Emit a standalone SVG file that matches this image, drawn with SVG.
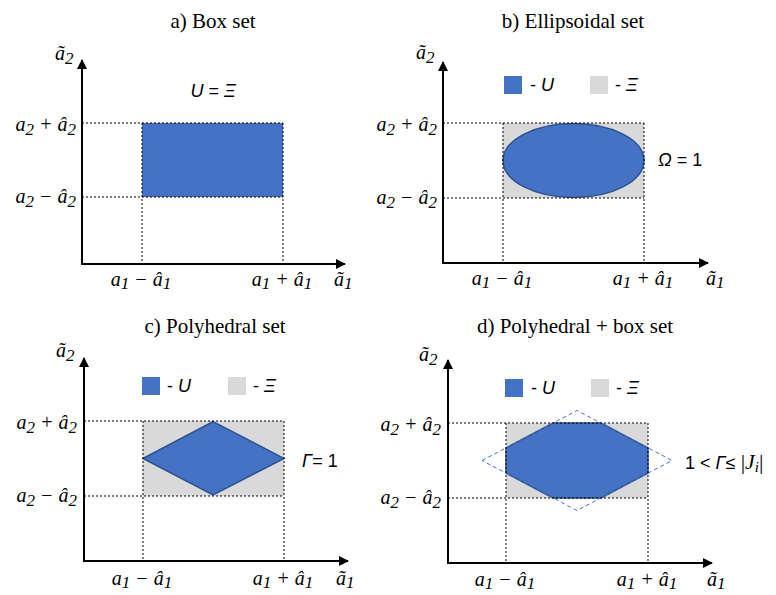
<svg xmlns="http://www.w3.org/2000/svg" width="776" height="595" viewBox="0 0 776 595">
<style>
.title{font-family:"Liberation Serif","Times New Roman",serif;font-size:21px;fill:#000;text-anchor:middle}
.m{font-family:"Liberation Serif","Times New Roman",serif;font-style:italic;font-size:20px;fill:#000}
.s{font-size:17px}
.sans{font-family:"Liberation Sans",Arial,sans-serif;font-size:18px;fill:#000}
.it{font-style:italic}
.axis{stroke:#000;stroke-width:2;fill:none}
.dot{stroke:#000;stroke-width:1;stroke-dasharray:2,2;fill:none}
.u{fill:#4472C4;stroke:#2F528F;stroke-width:1.5}
.ub{fill:#4472C4}
.xi{fill:#D9D9D9}
.dd{fill:none;stroke:#4472C4;stroke-width:1;stroke-dasharray:4,3}
</style>
<defs>
<marker id="arr" viewBox="0 0 10 10" refX="9" refY="5" markerWidth="5" markerHeight="5" orient="auto" markerUnits="strokeWidth">
<path d="M0,0 L10,5 L0,10 z" fill="#000"/>
</marker>
</defs>

<g id="panel-a">
<text class="title" x="213" y="28">a) Box set</text>
<rect class="ub" x="142" y="123" width="141" height="74"/>
<g class="dot">
<path d="M82,123H283M82,197H283M142,123V264M283,123V264"/>
</g>
<text class="sans" x="213" y="97" text-anchor="middle"><tspan class="it">U</tspan> = <tspan class="it">Ξ</tspan></text>
<text class="m" x="76" y="131" text-anchor="end">a<tspan class="s" dy="4">2</tspan><tspan dy="-4"> + â</tspan><tspan class="s" dy="4">2</tspan></text>
<text class="m" x="76" y="203" text-anchor="end">a<tspan class="s" dy="4">2</tspan><tspan dy="-4"> − â</tspan><tspan class="s" dy="4">2</tspan></text>
<text class="m" x="141" y="286" text-anchor="middle">a<tspan class="s" dy="3">1</tspan><tspan dy="-3"> − â</tspan><tspan class="s" dy="3">1</tspan></text>
<text class="m" x="282" y="286" text-anchor="middle">a<tspan class="s" dy="3">1</tspan><tspan dy="-3"> + â</tspan><tspan class="s" dy="3">1</tspan></text>
<text class="m" x="334" y="286">ã<tspan class="s" dy="3">1</tspan></text>
<text class="m" x="55" y="60">ã<tspan class="s" dy="4">2</tspan></text>
</g>

<g id="panel-b">
<text class="title" x="573" y="28">b) Ellipsoidal set</text>
<rect class="xi" x="503" y="123" width="141" height="75"/>
<ellipse class="u" cx="573.5" cy="160.5" rx="70.5" ry="37"/>
<g class="dot">
<path d="M443,123H644M443,198H644M503,123V263M644,123V263"/>
</g>
<rect class="ub" x="504" y="76" width="18" height="18"/>
<text class="sans" x="530" y="91" font-size="17">- <tspan class="it">U</tspan></text>
<rect class="xi" x="590" y="76" width="18" height="18"/>
<text class="sans" x="615" y="91" font-size="17">- <tspan class="it">Ξ</tspan></text>
<text class="sans" x="658" y="166" font-size="19"><tspan class="it">Ω</tspan> = 1</text>
<text class="m" x="437" y="131" text-anchor="end">a<tspan class="s" dy="4">2</tspan><tspan dy="-4"> + â</tspan><tspan class="s" dy="4">2</tspan></text>
<text class="m" x="437" y="204" text-anchor="end">a<tspan class="s" dy="4">2</tspan><tspan dy="-4"> − â</tspan><tspan class="s" dy="4">2</tspan></text>
<text class="m" x="502" y="285" text-anchor="middle">a<tspan class="s" dy="3">1</tspan><tspan dy="-3"> − â</tspan><tspan class="s" dy="3">1</tspan></text>
<text class="m" x="643" y="285" text-anchor="middle">a<tspan class="s" dy="3">1</tspan><tspan dy="-3"> + â</tspan><tspan class="s" dy="3">1</tspan></text>
<text class="m" x="706" y="285">ã<tspan class="s" dy="3">1</tspan></text>
<text class="m" x="416" y="59">ã<tspan class="s" dy="4">2</tspan></text>
</g>

<g id="panel-c">
<text class="title" x="215" y="333">c) Polyhedral set</text>
<rect class="xi" x="143" y="421" width="141" height="75"/>
<polygon class="u" points="143,458.5 213,421.5 284,458.5 213,495"/>
<g class="dot">
<path d="M84,421H284M84,496H284M143,421V561M284,421V561"/>
</g>
<rect class="ub" x="142" y="377" width="18" height="18"/>
<text class="sans" x="167" y="392" font-size="17">- <tspan class="it">U</tspan></text>
<rect class="xi" x="228" y="377" width="18" height="18"/>
<text class="sans" x="253" y="392" font-size="17">- <tspan class="it">Ξ</tspan></text>
<text class="sans" x="302" y="467" font-size="20"><tspan class="it">Γ</tspan>= 1</text>
<text class="m" x="77" y="429" text-anchor="end">a<tspan class="s" dy="4">2</tspan><tspan dy="-4"> + â</tspan><tspan class="s" dy="4">2</tspan></text>
<text class="m" x="77" y="502" text-anchor="end">a<tspan class="s" dy="4">2</tspan><tspan dy="-4"> − â</tspan><tspan class="s" dy="4">2</tspan></text>
<text class="m" x="142" y="585" text-anchor="middle">a<tspan class="s" dy="3">1</tspan><tspan dy="-3"> − â</tspan><tspan class="s" dy="3">1</tspan></text>
<text class="m" x="283" y="585" text-anchor="middle">a<tspan class="s" dy="3">1</tspan><tspan dy="-3"> + â</tspan><tspan class="s" dy="3">1</tspan></text>
<text class="m" x="336" y="585">ã<tspan class="s" dy="3">1</tspan></text>
<text class="m" x="56" y="357">ã<tspan class="s" dy="4">2</tspan></text>
</g>

<g id="panel-d">
<text class="title" x="575" y="333">d) Polyhedral + box set</text>
<rect class="xi" x="506" y="423" width="142" height="75"/>
<polygon class="u" points="553,423 601,423 648,448 648,473 601,498 553,498 506,473 506,448"/>
<polygon class="dd" points="482,460.5 577,410.5 672,460.5 577,510.5"/>
<g class="dot">
<path d="M448,423H648M448,498H648M506,423V563M648,423V563"/>
</g>
<rect class="ub" x="505" y="379" width="18" height="18"/>
<text class="sans" x="531" y="394" font-size="17">- <tspan class="it">U</tspan></text>
<rect class="xi" x="591" y="379" width="18" height="18"/>
<text class="sans" x="616" y="394" font-size="17">- <tspan class="it">Ξ</tspan></text>
<text class="sans" x="685" y="469" font-size="20">1 &lt; <tspan class="it">Γ</tspan>≤ <tspan font-family="Liberation Serif, serif" font-size="22">|<tspan class="it">J</tspan><tspan class="it" font-size="15" dy="3">i</tspan><tspan dy="-3">|</tspan></tspan></text>
<text class="m" x="441" y="431" text-anchor="end">a<tspan class="s" dy="4">2</tspan><tspan dy="-4"> + â</tspan><tspan class="s" dy="4">2</tspan></text>
<text class="m" x="441" y="504" text-anchor="end">a<tspan class="s" dy="4">2</tspan><tspan dy="-4"> − â</tspan><tspan class="s" dy="4">2</tspan></text>
<text class="m" x="505" y="586" text-anchor="middle">a<tspan class="s" dy="3">1</tspan><tspan dy="-3"> − â</tspan><tspan class="s" dy="3">1</tspan></text>
<text class="m" x="647" y="586" text-anchor="middle">a<tspan class="s" dy="3">1</tspan><tspan dy="-3"> + â</tspan><tspan class="s" dy="3">1</tspan></text>
<text class="m" x="707" y="586">ã<tspan class="s" dy="3">1</tspan></text>
<text class="m" x="419" y="361">ã<tspan class="s" dy="4">2</tspan></text>
</g>

<g id="connectors">
<path class="axis" d="M82,264V60" marker-end="url(#arr)"/>
<path class="axis" d="M81,264H345" marker-end="url(#arr)"/>
<path class="axis" d="M443,263V62" marker-end="url(#arr)"/>
<path class="axis" d="M442,263H708" marker-end="url(#arr)"/>
<path class="axis" d="M84,561V358" marker-end="url(#arr)"/>
<path class="axis" d="M83,561H348" marker-end="url(#arr)"/>
<path class="axis" d="M448,563V360" marker-end="url(#arr)"/>
<path class="axis" d="M447,563H712" marker-end="url(#arr)"/>
</g>
</svg>
